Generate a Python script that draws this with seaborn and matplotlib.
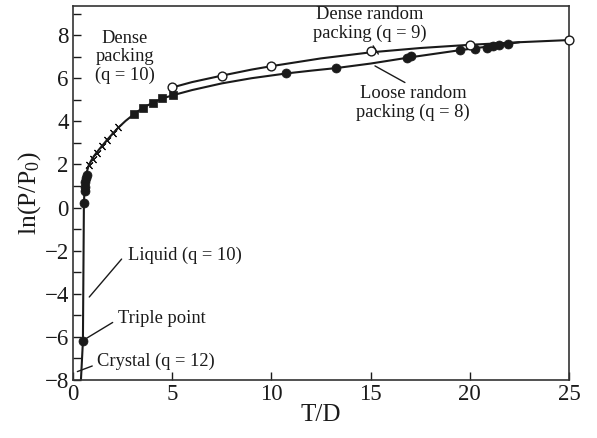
import matplotlib
matplotlib.use("Agg")
import matplotlib.pyplot as plt
from matplotlib.ticker import MultipleLocator
import seaborn as sns
import pandas as pd

# --- measured points -------------------------------------------------------
triple_x, triple_y = [0.50], [-6.20]

liquid_x = [0.55, 0.58, 0.60, 0.62, 0.65, 0.72]
liquid_y = [0.22, 0.75, 0.95, 1.20, 1.35, 1.52]

cross_x = [0.82, 0.99, 1.22, 1.48, 1.70, 2.00, 2.25]
cross_y = [1.98, 2.26, 2.54, 2.85, 3.13, 3.44, 3.75]

dense_x = [3.07, 3.54, 4.05, 4.50, 5.03]
dense_y = [4.33, 4.64, 4.87, 5.06, 5.21]

drp_x = [5.0, 7.5, 10.0, 15.0, 20.0, 25.0]
drp_y = [5.57, 6.12, 6.57, 7.25, 7.56, 7.77]

lrp_x = [10.74, 13.26, 16.82, 17.02, 19.50, 20.26, 20.88, 21.19, 21.49, 21.94]
lrp_y = [6.23, 6.47, 6.96, 7.03, 7.31, 7.37, 7.42, 7.50, 7.53, 7.60]

# --- fitted curves (vertices) ----------------------------------------------
crystal_curve_x = [0.40, 0.50]
crystal_curve_y = [-8.0, -6.20]

main_curve_x = [0.50, 0.55, 0.58, 0.62, 0.68, 0.78, 0.90, 1.05, 1.25, 1.50,
                1.75, 2.00, 2.30, 2.65, 3.07, 3.54, 4.05, 4.50, 5.03]
main_curve_y = [-6.20, 0.22, 0.80, 1.25, 1.60, 1.92, 2.15, 2.38, 2.62, 2.90,
                3.17, 3.43, 3.72, 4.02, 4.33, 4.64, 4.87, 5.06, 5.21]

upper_curve_x = [5.0, 6.0, 7.5, 9.0, 10.0, 12.5, 15.0, 17.5, 20.0, 22.5, 25.0]
upper_curve_y = [5.57, 5.82, 6.12, 6.40, 6.56, 6.92, 7.20, 7.40, 7.55, 7.67, 7.77]

lower_curve_x = [5.03, 6.0, 7.5, 9.0, 10.74, 12.0, 13.26, 15.0, 17.0, 19.5,
                 21.0, 22.5]
lower_curve_y = [5.21, 5.45, 5.76, 6.00, 6.22, 6.35, 6.47, 6.68, 6.97, 7.30,
                 7.48, 7.67]

xticks = [0, 5, 10, 15, 20, 25]
yticks = [-8, -6, -4, -2, 0, 2, 4, 6, 8]

# --- style -----------------------------------------------------------------
sns.set_theme(style="ticks")
plt.rcParams["font.family"] = ["Liberation Serif", "DejaVu Serif"]
plt.rcParams["mathtext.fontset"] = "custom"
plt.rcParams["mathtext.rm"] = "Liberation Serif"
plt.rcParams["mathtext.it"] = "Liberation Serif:italic"
plt.rcParams["axes.unicode_minus"] = True

fig = plt.figure(figsize=(5.97, 4.38), dpi=100)
ax = fig.add_axes([73 / 597, 1 - 380 / 438, 496 / 597, 374 / 438])

lw = 1.5
ink = "#1a1a1a"


def curve(xs, ys):
    df = pd.DataFrame({"x": xs, "y": ys})
    sns.lineplot(data=df, x="x", y="y", sort=False, estimator=None,
                 color=ink, linewidth=lw, ax=ax, zorder=2)


for cx, cy in [(crystal_curve_x, crystal_curve_y), (main_curve_x, main_curve_y),
               (upper_curve_x, upper_curve_y), (lower_curve_x, lower_curve_y)]:
    curve(cx, cy)

sns.scatterplot(x=triple_x + liquid_x + lrp_x, y=triple_y + liquid_y + lrp_y,
                s=42, color=ink, edgecolor=ink, linewidth=0.5, ax=ax,
                zorder=3, clip_on=False)
sns.scatterplot(x=dense_x, y=dense_y, marker="s", s=34, color=ink,
                edgecolor=ink, linewidth=0.5, ax=ax, zorder=3)
sns.scatterplot(x=drp_x, y=drp_y, s=40, facecolor="white", edgecolor=ink,
                linewidth=1.0, ax=ax, zorder=3, clip_on=False)
sns.scatterplot(x=cross_x, y=cross_y, marker=(4, 2, 40), s=36, color=ink,
                edgecolor=ink, linewidth=0.8, ax=ax, zorder=3)

# --- labels ----------------------------------------------------------------
tfs = 13.3
ls = 1.1
ax.text(2.62, 6.98, "Dense\npacking\n(q = 10)", ha="center", va="center",
        fontsize=tfs, linespacing=ls, color=ink)
ax.text(14.97, 8.51, "Dense random\npacking (q = 9)", ha="center",
        va="center", fontsize=tfs, linespacing=ls, color=ink)
ax.text(17.14, 4.84, "Loose random\npacking (q = 8)", ha="center",
        va="center", fontsize=tfs, linespacing=ls, color=ink)
ax.text(2.77, -2.23, "Liquid (q = 10)", ha="left", va="center",
        fontsize=tfs, color=ink)
ax.text(2.28, -5.13, "Triple point", ha="left", va="center",
        fontsize=tfs, color=ink)
ax.text(1.22, -7.15, "Crystal (q = 12)", ha="left", va="center",
        fontsize=tfs, color=ink)

leaders = [((15.13, 7.50), (15.39, 7.12)),
           ((15.22, 6.57), (16.73, 5.80)),
           ((2.45, -2.39), (0.82, -4.15)),
           ((2.00, -5.33), (0.60, -6.11)),
           ((0.97, -7.35), (0.22, -7.61))]
for (x0, y0), (x1, y1) in leaders:
    ax.plot([x0, x1], [y0, y1], color=ink, linewidth=1.0, zorder=2)

# --- axes ------------------------------------------------------------------
ax.set_xlim(0, 25)
ax.set_ylim(-8, 9.35)
ax.set_xticks(xticks)
ax.set_yticks(yticks)
ax.set_xticklabels([str(t) for t in xticks])
ax.set_yticklabels([("\u2212" + str(-t)) if t < 0 else str(t) for t in yticks])
ax.yaxis.set_minor_locator(MultipleLocator(1))
ax.tick_params(axis="both", which="both", direction="in", length=6,
               width=1.0, color=ink, labelsize=16.5, labelcolor=ink, pad=3,
               top=False, right=False)
ax.tick_params(axis="x", which="minor", bottom=False)
for sp in ax.spines.values():
    sp.set_visible(True)
    sp.set_linewidth(1.2)
    sp.set_color("#333333")

ax.set_xlabel("T/D", fontsize=18, color=ink, labelpad=-1)
ax.set_ylabel("ln(P/P$_0$)", fontsize=18.5, color=ink, labelpad=1)

fig.savefig("out.png", dpi=100)
